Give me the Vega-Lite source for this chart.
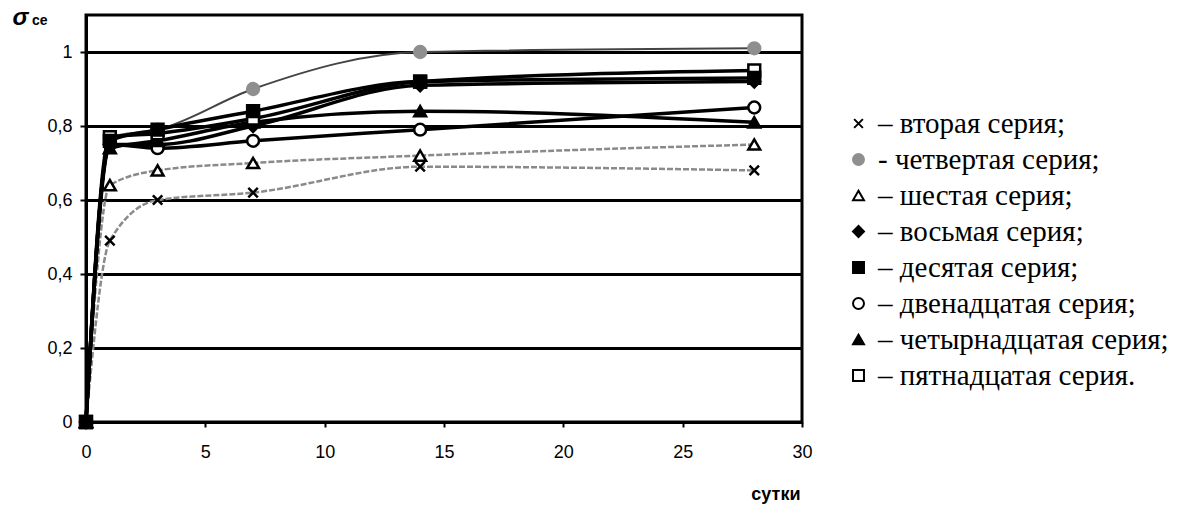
{
  "$schema": "https://vega.github.io/schema/vega-lite/v6.json",
  "autosize": {"type": "none"},
  "padding": {"left": 86, "top": 15, "right": 380, "bottom": 84},
  "width": 716,
  "height": 407,
  "background": "white",
  "title": {"text": "се", "anchor": "start", "frame": "group", "orient": "top", "offset": 0, "dx": -54, "dy": 34, "baseline": "alphabetic", "font": "Liberation Sans", "fontSize": 14, "fontWeight": "bold", "color": "black"},
  "config": {
    "view": {"stroke": "black", "strokeWidth": 3},
    "axis": {"labelFont": "Liberation Sans", "labelFontSize": 18, "labelColor": "black", "titleColor": "black", "domainColor": "black", "tickColor": "black"}
  },
  "data": {"values": [
    {"series": "– вторая серия;", "day": 0, "value": 0},
    {"series": "– вторая серия;", "day": 1, "value": 0.49},
    {"series": "– вторая серия;", "day": 3, "value": 0.60},
    {"series": "– вторая серия;", "day": 7, "value": 0.62},
    {"series": "– вторая серия;", "day": 14, "value": 0.69},
    {"series": "– вторая серия;", "day": 28, "value": 0.68},
    {"series": "- четвертая серия;", "day": 0, "value": 0},
    {"series": "- четвертая серия;", "day": 1, "value": 0.77},
    {"series": "- четвертая серия;", "day": 3, "value": 0.79},
    {"series": "- четвертая серия;", "day": 7, "value": 0.90},
    {"series": "- четвертая серия;", "day": 14, "value": 1.00},
    {"series": "- четвертая серия;", "day": 28, "value": 1.01},
    {"series": "– шестая серия;", "day": 0, "value": 0},
    {"series": "– шестая серия;", "day": 1, "value": 0.64},
    {"series": "– шестая серия;", "day": 3, "value": 0.68},
    {"series": "– шестая серия;", "day": 7, "value": 0.70},
    {"series": "– шестая серия;", "day": 14, "value": 0.72},
    {"series": "– шестая серия;", "day": 28, "value": 0.75},
    {"series": "– восьмая серия;", "day": 0, "value": 0},
    {"series": "– восьмая серия;", "day": 1, "value": 0.75},
    {"series": "– восьмая серия;", "day": 3, "value": 0.75},
    {"series": "– восьмая серия;", "day": 7, "value": 0.80},
    {"series": "– восьмая серия;", "day": 14, "value": 0.91},
    {"series": "– восьмая серия;", "day": 28, "value": 0.92},
    {"series": "– двенадцатая серия;", "day": 0, "value": 0},
    {"series": "– двенадцатая серия;", "day": 1, "value": 0.75},
    {"series": "– двенадцатая серия;", "day": 3, "value": 0.74},
    {"series": "– двенадцатая серия;", "day": 7, "value": 0.76},
    {"series": "– двенадцатая серия;", "day": 14, "value": 0.79},
    {"series": "– двенадцатая серия;", "day": 28, "value": 0.85},
    {"series": "– четырнадцатая серия;", "day": 0, "value": 0},
    {"series": "– четырнадцатая серия;", "day": 1, "value": 0.74},
    {"series": "– четырнадцатая серия;", "day": 3, "value": 0.76},
    {"series": "– четырнадцатая серия;", "day": 7, "value": 0.81},
    {"series": "– четырнадцатая серия;", "day": 14, "value": 0.84},
    {"series": "– четырнадцатая серия;", "day": 28, "value": 0.81},
    {"series": "– пятнадцатая серия.", "day": 0, "value": 0},
    {"series": "– пятнадцатая серия.", "day": 1, "value": 0.77},
    {"series": "– пятнадцатая серия.", "day": 3, "value": 0.78},
    {"series": "– пятнадцатая серия.", "day": 7, "value": 0.82},
    {"series": "– пятнадцатая серия.", "day": 14, "value": 0.92},
    {"series": "– пятнадцатая серия.", "day": 28, "value": 0.95},
    {"series": "– десятая серия;", "day": 0, "value": 0},
    {"series": "– десятая серия;", "day": 1, "value": 0.76},
    {"series": "– десятая серия;", "day": 3, "value": 0.79},
    {"series": "– десятая серия;", "day": 7, "value": 0.84},
    {"series": "– десятая серия;", "day": 14, "value": 0.92},
    {"series": "– десятая серия;", "day": 28, "value": 0.93}
  ]},
  "encoding": {
    "x": {"field": "day", "type": "quantitative", "scale": {"domain": [0, 30], "nice": false, "zero": false},
      "axis": {"values": [0, 5, 10, 15, 20, 25, 30], "grid": false, "domainWidth": 3, "tickSize": 5, "tickWidth": 2, "labelPadding": 16, "labelFlush": false,
        "title": "сутки", "titleFont": "Liberation Sans", "titleFontSize": 18, "titleFontWeight": "bold", "titleAnchor": "end", "titleAlign": "right", "titleX": 714, "titleY": 77, "titleBaseline": "alphabetic"}},
    "y": {"field": "value", "type": "quantitative", "scale": {"domain": [0, 1.1], "nice": false},
      "axis": {"values": [0, 0.2, 0.4, 0.6, 0.8, 1], "grid": true, "gridColor": "black", "gridWidth": 3, "gridOpacity": 1, "domainWidth": 3, "tickSize": 6, "tickWidth": 2, "labelPadding": 8, "labelFlush": false,
        "labelExpr": "replace(format(datum.value, '.1~f'), '.', ',')",
        "title": "σ", "titleFont": "Liberation Sans", "titleFontSize": 24, "titleFontWeight": "bold", "titleFontStyle": "italic", "titleAngle": 0, "titleAlign": "left", "titleBaseline": "alphabetic", "titleX": -74, "titleY": 9}}
  },
  "layer": [
    {
      "transform": [{"filter": {"field": "series", "oneOf": ["– вторая серия;", "– шестая серия;"]}}],
      "mark": {"type": "line", "interpolate": "monotone", "stroke": "#8a8a8a", "strokeWidth": 2.5, "strokeDash": [6, 2]},
      "encoding": {"detail": {"field": "series"}}
    },
    {
      "transform": [{"filter": {"field": "series", "equal": "- четвертая серия;"}}],
      "mark": {"type": "line", "interpolate": "monotone", "stroke": "#444444", "strokeWidth": 2},
      "encoding": {"detail": {"field": "series"}}
    },
    {
      "transform": [{"filter": {"field": "series", "oneOf": ["– восьмая серия;", "– десятая серия;", "– двенадцатая серия;", "– четырнадцатая серия;", "– пятнадцатая серия."]}}],
      "mark": {"type": "line", "interpolate": "monotone", "stroke": "black", "strokeWidth": 3.5},
      "encoding": {"detail": {"field": "series"}}
    },
    {
      "mark": {"type": "point", "size": 140, "strokeWidth": 2.5, "opacity": 1, "filled": false},
      "encoding": {
        "color": {"field": "series", "type": "nominal",
          "scale": {"domain": ["– вторая серия;", "- четвертая серия;", "– шестая серия;", "– восьмая серия;", "– десятая серия;", "– двенадцатая серия;", "– четырнадцатая серия;", "– пятнадцатая серия."],
            "range": ["black", "#8f8f8f", "black", "black", "black", "black", "black", "black"]},
          "legend": {"orient": "none", "legendX": 758, "legendY": 94, "padding": 0, "rowPadding": 6, "labelFont": "Liberation Serif", "labelFontSize": 29, "labelColor": "black", "labelOffset": 5, "labelLimit": 400, "symbolSize": 120, "symbolStrokeWidth": 2, "title": null}},
        "fill": {"field": "series", "type": "nominal",
          "scale": {"domain": ["– вторая серия;", "- четвертая серия;", "– шестая серия;", "– восьмая серия;", "– десятая серия;", "– двенадцатая серия;", "– четырнадцатая серия;", "– пятнадцатая серия."],
            "range": ["transparent", "#8f8f8f", "white", "black", "black", "white", "black", "white"]},
          "legend": {"orient": "none", "legendX": 758, "legendY": 94, "padding": 0, "rowPadding": 6, "labelFont": "Liberation Serif", "labelFontSize": 29, "labelColor": "black", "labelOffset": 5, "labelLimit": 400, "symbolSize": 120, "symbolStrokeWidth": 2, "title": null}},
        "shape": {"field": "series", "type": "nominal",
          "scale": {"domain": ["– вторая серия;", "- четвертая серия;", "– шестая серия;", "– восьмая серия;", "– десятая серия;", "– двенадцатая серия;", "– четырнадцатая серия;", "– пятнадцатая серия."],
            "range": ["M-0.8,-0.8L0.8,0.8M-0.8,0.8L0.8,-0.8", "circle", "triangle-up", "diamond", "square", "circle", "triangle-up", "square"]},
          "legend": {"orient": "none", "legendX": 758, "legendY": 94, "padding": 0, "rowPadding": 6, "labelFont": "Liberation Serif", "labelFontSize": 29, "labelColor": "black", "labelOffset": 5, "labelLimit": 400, "symbolSize": 120, "symbolStrokeWidth": 2, "title": null}}
      }
    }
  ]
}
